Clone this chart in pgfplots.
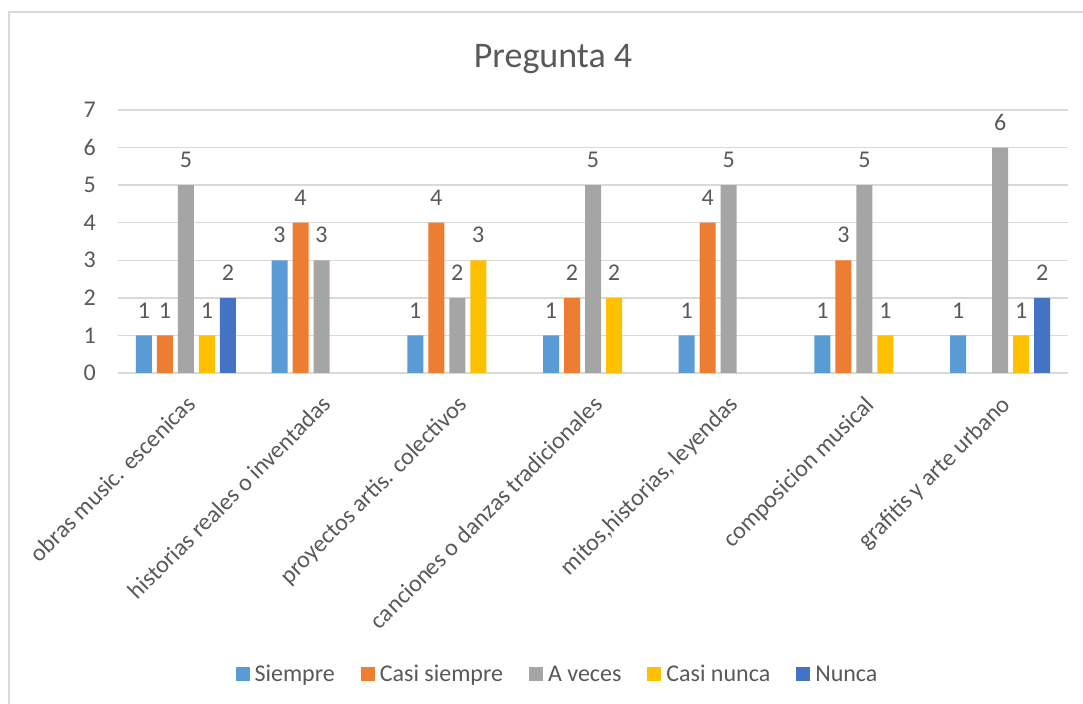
\documentclass[border=0pt]{standalone}
\usepackage{pgfplots}
\pgfplotsset{compat=1.18}
\usepackage{fontspec}
\setmainfont{Carlito}
\definecolor{cS}{HTML}{5B9BD5}
\definecolor{cCS}{HTML}{ED7D31}
\definecolor{cAV}{HTML}{A5A5A5}
\definecolor{cCN}{HTML}{FFC000}
\definecolor{cN}{HTML}{4472C4}
\definecolor{txt}{HTML}{595959}
\definecolor{gridc}{HTML}{D9D9D9}
\newcommand{\lblfont}{\fontsize{24bp}{28bp}\selectfont}
\newcommand{\ttlfont}{\fontsize{36bp}{42bp}\selectfont}
\begin{document}
\begin{tikzpicture}[x=1bp,y=1bp]
\path[use as bounding box] (0,0) rectangle (1083,704);
\fill[white] (0,0) rectangle (1083,704);
\draw[gridc, line width=1.2bp] (9,0) -- (9,692) -- (1083,692);
\node[text=txt, font=\ttlfont, anchor=base, inner sep=0pt] at (553,636) {Pregunta 4};
\begin{axis}[
  at={(118bp,331bp)}, anchor=south west,
  scale only axis, width=950bp, height=263bp,
  ybar=5bp, bar width=16bp,
  xmin=-0.5, xmax=6.5, ymin=0, ymax=7,
  ytick={0,...,7},
  xtick={0,...,6},
  xticklabels={obras music. escenicas, historias reales o inventadas, proyectos artis. colectivos, canciones o danzas tradicionales, {mitos,historias, leyendas}, composicion musical, grafitis y arte urbano},
  xticklabel style={xshift=11bp, yshift=-33bp, rotate=45, anchor=base east, inner sep=0pt, font=\lblfont, text=txt},
  yticklabel style={font=\lblfont, text=txt, inner sep=0pt, xshift=-22bp, anchor=east},
  /pgf/number format/assume math mode=true,
  major tick length=0pt,
  axis x line*=bottom,
  axis y line*=left,
  y axis line style={draw=none},
  x axis line style={draw=gridc, line width=1.5bp, -},
  ymajorgrids, xmajorgrids=false,
  major grid style={draw=gridc, line width=1.5bp},
  nodes near coords,
  every node near coord/.append style={font=\lblfont, text=txt, inner sep=0pt, anchor=south, yshift=17bp},
  legend style={at={(0.4616,-1.1445)}, anchor=center, draw=none, fill=none, font=\lblfont, text=txt, legend columns=-1,
    nodes={inner sep=0pt}, cells={anchor=base west},
    /tikz/every odd column/.append style={column sep=5bp},
    /tikz/every even column/.append style={column sep=26bp}},
  legend image code/.code={\fill[#1] (0bp,1bp) rectangle (14bp,15bp);},
  clip=false,
]
\addplot[draw=none, fill=cS] coordinates {(0,1) (1,3) (2,1) (3,1) (4,1) (5,1) (6,1)};
\addplot[draw=none, fill=cCS] coordinates {(0,1) (1,4) (2,4) (3,2) (4,4) (5,3)};
\addplot[draw=none, fill=cAV] coordinates {(0,5) (1,3) (2,2) (3,5) (4,5) (5,5) (6,6)};
\addplot[draw=none, fill=cCN] coordinates {(0,1) (2,3) (3,2) (5,1) (6,1)};
\addplot[draw=none, fill=cN] coordinates {(0,2) (6,2)};
\legend{Siempre, Casi siempre, A veces, Casi nunca, Nunca}
\end{axis}
\end{tikzpicture}
\end{document}
